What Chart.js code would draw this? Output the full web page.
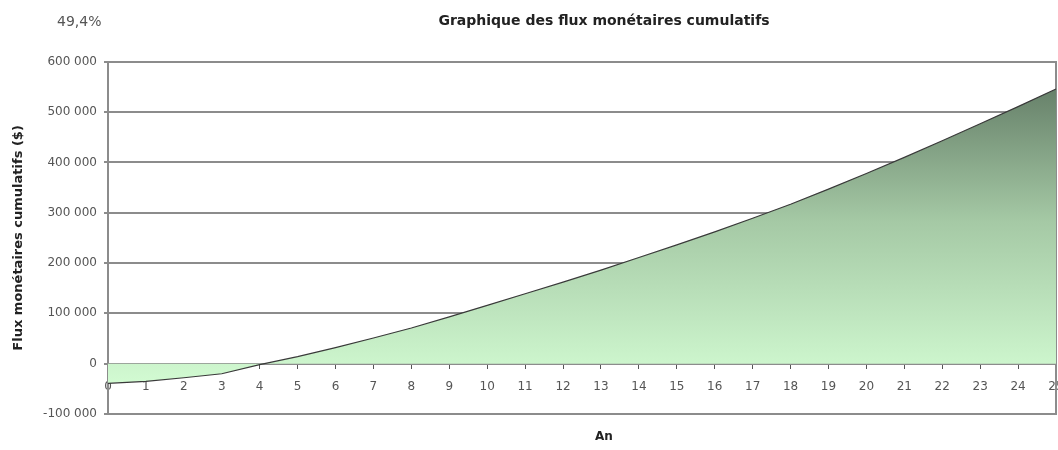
<!DOCTYPE html>
<html>
<head>
<meta charset="utf-8">
<script src="https://cdn.jsdelivr.net/npm/chart.js@4/dist/chart.umd.min.js"></script>
<style>
  html, body { margin: 0; padding: 0; background: #fff; overflow: hidden; }
  #cadre { position: relative; width: 1208px; height: 450px; }
  #tri { position: absolute; left: 57px; top: 13px; font: 14px "DejaVu Sans", sans-serif; color: #555; }
</style>
</head>
<body>
<div id="cadre">
  <canvas id="graphFlux"></canvas>
  <div id="tri">49,4%</div>
</div>
<script>
// Données du graphique
const annees = ['0', '1', '2', '3', '4', '5', '6', '7', '8', '9', '10', '11', '12', '13', '14', '15', '16', '17', '18', '19', '20', '21', '22', '23', '24', '25'];
const fluxCumules = [-39000, -35000, -28000, -20000, -2000, 14000, 32000, 51000, 71000, 93000, 116000, 139000, 162000, 186000, 211000, 236000, 262000, 289000, 317000, 347000, 378000, 410000, 443000, 477000, 511000, 546000];
const graduationsY = [-100000, 0, 100000, 200000, 300000, 400000, 500000, 600000];

const police = '"DejaVu Sans", sans-serif';
const gris = '#8c8c8c';

// "600 000" avec espace comme séparateur de milliers
function formatMontant(v) {
    const s = String(Math.abs(v)).replace(/\B(?=(\d{3})+(?!\d))/g, ' ');
    return (v < 0 ? '-' : '') + s;
}

// dégradé vert foncé en haut -> vert pâle en bas
function degrade(context) {
    const chart = context.chart;
    const { ctx, chartArea, scales } = chart;
    if (!chartArea) return '#cdf5cd';
    const yHaut = scales.y.getPixelForValue(Math.max(...fluxCumules));
    const yBas = scales.y.getPixelForValue(Math.min(...fluxCumules));
    const g = ctx.createLinearGradient(0, yHaut, 0, yBas);
    g.addColorStop(0, '#67816a');
    g.addColorStop(0.45, '#a5c9a5');
    g.addColorStop(1, '#d2fbd2');
    return g;
}

const ctx = document.getElementById('graphFlux');
const graphFlux = new Chart(ctx, {
    type: 'line',
    data: {
        labels: annees,
        datasets: [{
            label: 'Flux monétaires cumulatifs',
            data: fluxCumules,
            borderColor: '#3a3a3a',
            borderWidth: 1.2,
            pointRadius: 0,
            tension: 0,
            fill: 'origin',
            backgroundColor: degrade
        }]
    },
    options: {
        responsive: true,
        maintainAspectRatio: false,
        animation: false,
        layout: { padding: 0 },
        plugins: {
            legend: { display: false },
            tooltip: { enabled: false },
            title: {
                display: true,
                text: 'Graphique des flux monétaires cumulatifs',
                color: '#222',
                font: { family: police, size: 14, weight: 'bold' },
                padding: { top: 13, bottom: 32 }
            },
            subtitle: {
                display: true,
                position: 'bottom',
                text: 'An',
                color: '#222',
                font: { family: police, size: 12, weight: 'bold' },
                padding: { top: 15.6, bottom: 6 }
            }
        },
        scales: {
            x: {
                position: { y: 0 },
                offset: false,
                afterFit: (axis) => { axis.height = 0; },
                grid: {
                    drawOnChartArea: false,
                    tickColor: '#555',
                    tickLength: 4
                },
                border: { display: true, color: gris, width: 2 },
                ticks: {
                    color: '#555',
                    font: { family: police, size: 12 },
                    padding: 12,
                    maxRotation: 0,
                    autoSkip: false
                }
            },
            y: {
                min: graduationsY[0],
                max: graduationsY[graduationsY.length - 1],
                afterFit: (axis) => { axis.width = 108; },
                afterBuildTicks: (axis) => {
                    axis.ticks = graduationsY.map(v => ({ value: v }));
                },
                grid: {
                    color: gris,
                    lineWidth: 2,
                    tickLength: 4
                },
                border: { display: true, color: gris, width: 2 },
                ticks: {
                    color: '#555',
                    font: { family: police, size: 12 },
                    padding: 7,
                    callback: (v) => formatMontant(v)
                },
                title: {
                    display: true,
                    text: 'Flux monétaires cumulatifs ($)',
                    color: '#222',
                    font: { family: police, size: 13, weight: 'bold' },
                    padding: { top: 11, bottom: 0 }
                }
            },
            // bord droit du cadre du graphique
            cadreDroit: {
                type: 'linear',
                position: 'right',
                afterFit: (axis) => { axis.width = 152; },
                grid: { drawOnChartArea: false, drawTicks: false },
                border: { display: true, color: gris, width: 2 },
                ticks: { display: false }
            }
        }
    }
});
</script>
</body>
</html>
